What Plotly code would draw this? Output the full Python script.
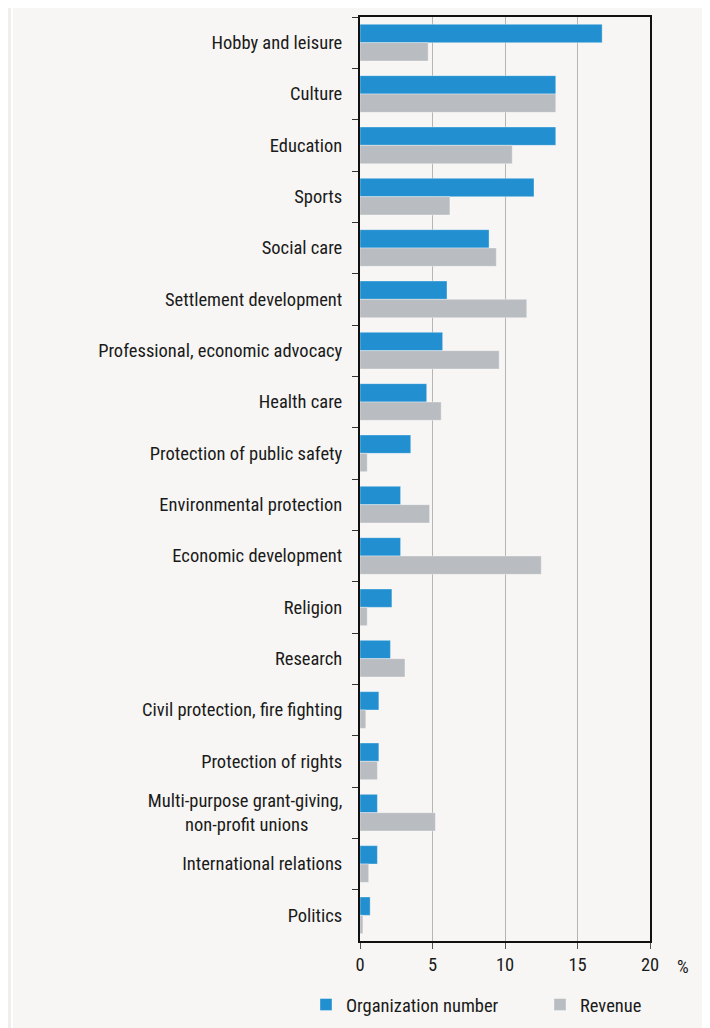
import plotly.graph_objects as go

categories = [
    "Hobby and leisure", "Culture", "Education", "Sports", "Social care",
    "Settlement development", "Professional, economic advocacy", "Health care",
    "Protection of public safety", "Environmental protection", "Economic development",
    "Religion", "Research", "Civil protection, fire fighting", "Protection of rights",
    "Multi-purpose grant-giving,<br>non-profit unions" + "\u00a0" * 8,
    "International relations", "Politics",
]
org_number = [16.7, 13.5, 13.5, 12.0, 8.9, 6.0, 5.7, 4.6, 3.5, 2.8, 2.8, 2.2, 2.1, 1.3, 1.3, 1.2, 1.2, 0.7]
revenue = [4.7, 13.5, 10.5, 6.2, 9.4, 11.5, 9.6, 5.6, 0.5, 4.8, 12.5, 0.5, 3.1, 0.4, 1.2, 5.2, 0.6, 0.2]
x_ticks = [0, 5, 10, 15, 20]

FONT = "Roboto Condensed, Liberation Sans Narrow, Arial Narrow, sans-serif"
FS = 18.5
OFF = 8  # page body margin
W, H = 710 - OFF, 1028 - OFF
L, R, T, B = 360 - OFF, 710 - 650, 17 - OFF, 1028 - 941
PW, PH = W - L - R, H - T - B


def px_x(p):
    return (p - OFF - L) / PW


def px_y(p):
    return (H - B - (p - OFF)) / PH


fig = go.Figure()
fig.add_trace(go.Bar(
    y=categories, x=org_number, orientation="h", name="Organization number",
    marker=dict(color="#2290d0", line=dict(color="rgba(255,255,255,0.35)", width=1)),
))
fig.add_trace(go.Bar(
    y=categories, x=revenue, orientation="h", name="Revenue",
    marker=dict(color="#b9bdc1", line=dict(color="rgba(255,255,255,0.35)", width=1)),
))

fig.update_layout(
    width=W, height=H,
    margin=dict(l=L, r=R, t=T, b=B, autoexpand=False),
    paper_bgcolor="#efeeec",
    plot_bgcolor="rgba(0,0,0,0)",
    barmode="group", bargap=0.285, bargroupgap=0,
    font=dict(family=FONT, size=FS, color="#1a1a1a"),
    showlegend=True,
    legend=dict(
        orientation="h", x=px_x(306), xanchor="left", y=px_y(986), yanchor="top",
        entrywidth=189, entrywidthmode="pixels",
        bgcolor="rgba(0,0,0,0)", font=dict(family=FONT, size=FS, color="#1a1a1a"),
        itemclick=False,
    ),
    shapes=[dict(
        type="rect", xref="paper", yref="paper",
        x0=px_x(12), x1=px_x(705), y0=px_y(1040), y1=px_y(7),
        fillcolor="#f7f6f4", line=dict(color="#ffffff", width=2), layer="below",
    )],
    annotations=[dict(
        text="%", xref="paper", yref="paper", x=px_x(683), y=px_y(967),
        xanchor="center", yanchor="middle",
        showarrow=False, font=dict(family=FONT, size=FS, color="#1a1a1a"),
    )],
)

fig.update_xaxes(
    range=[0, 20], tickvals=x_ticks, ticktext=[str(v) for v in x_ticks],
    showgrid=True, gridcolor="#b5b5b5", gridwidth=1,
    showline=True, linecolor="#111111", linewidth=2, mirror=True,
    ticks="outside", ticklen=6, tickcolor="#555555", tickwidth=1,
    zeroline=False, fixedrange=True,
)
fig.update_yaxes(
    categoryorder="array", categoryarray=categories, autorange="reversed",
    tickson="boundaries", ticks="outside", ticklen=6, tickcolor="#333333", tickwidth=1,
    showline=True, linecolor="#111111", linewidth=2, mirror=True,
    showgrid=False, ticklabelstandoff=12, fixedrange=True,
)

fig.write_html("out.html")
